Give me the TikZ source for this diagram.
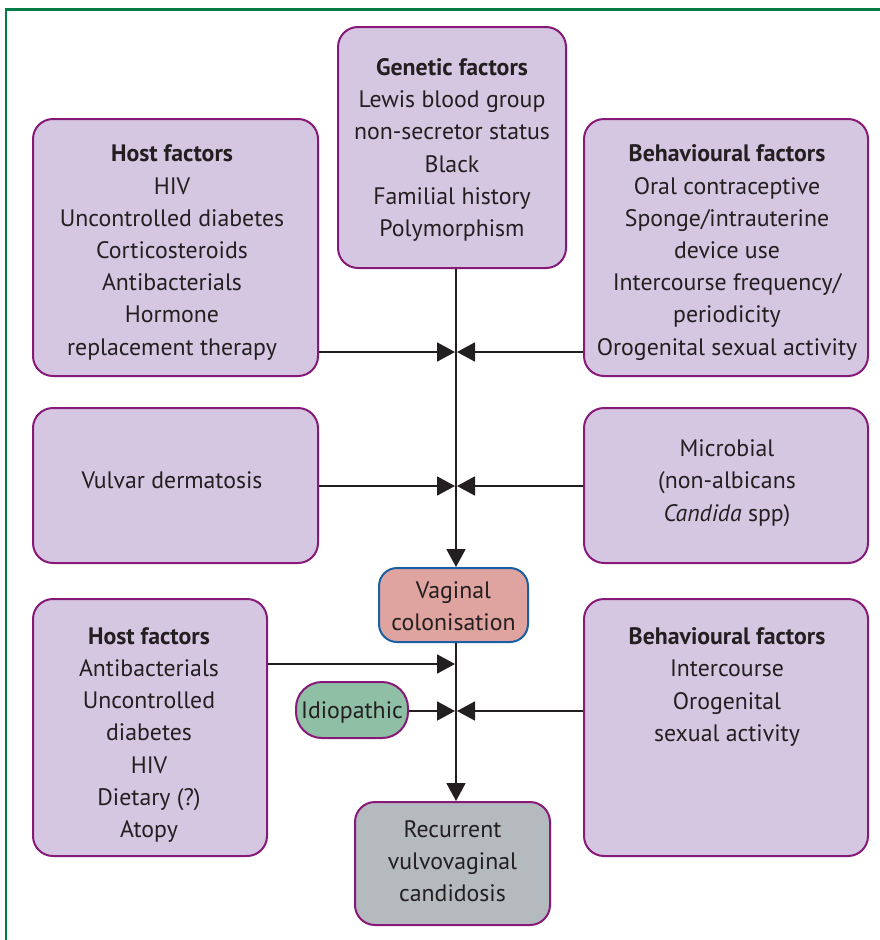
\documentclass[tikz,border=0pt]{standalone}
\usepackage{fontspec}
\setmainfont{PT Sans}
\usetikzlibrary{arrows.meta}
\definecolor{boxfill}{RGB}{213,198,225}
\definecolor{boxdraw}{RGB}{135,25,120}
\definecolor{txt}{RGB}{35,31,32}
\definecolor{vagfill}{RGB}{224,164,160}
\definecolor{vagdraw}{RGB}{25,95,165}
\definecolor{idiofill}{RGB}{143,192,165}
\definecolor{recfill}{RGB}{181,186,191}
\definecolor{frame}{RGB}{0,125,70}
\tikzset{
  box/.style={draw=boxdraw, fill=boxfill, line width=2pt, rounded corners=20pt,
    align=center, text=txt, inner sep=0pt, font=\fontsize{23.8}{32.2}\selectfont},
  lbl/.style={align=center, text=txt, inner sep=0pt, font=\fontsize{23.8}{32.2}\selectfont},
  arr/.style={line width=1.8pt, draw=txt, -{Triangle[length=18pt,width=19pt]}},
}
\begin{document}
\begin{tikzpicture}[x=1pt,y=-1pt]
\useasboundingbox (0,0) rectangle (880,940);
\draw[frame, line width=2.2pt] (6,940) -- (6,9.5) -- (880,9.5);
% boxes
\node[box, minimum width=228pt, minimum height=241pt] (gen) at (452,147.5) {};
\node[lbl] (gent) at (452,150)
  {\textbf{Genetic factors}\\Lewis blood group\\non-secretor status\\Black\\Familial history\\Polymorphism};
\node[box, minimum width=285pt, minimum height=257pt] (host1) at (175.5,247.5) {};
\node[lbl] (host1t) at (172,252.5)
  {\textbf{Host factors}\\HIV\\Uncontrolled diabetes\\Corticosteroids\\Antibacterials\\Hormone\\replacement therapy};
\node[box, minimum width=284pt, minimum height=257pt] (beh1) at (726,247.5) {};
\node[lbl] (beh1t) at (727,252.5)
  {\textbf{Behavioural factors}\\Oral contraceptive\\Sponge/intrauterine\\device use\\Intercourse frequency/\\periodicity\\Orogenital sexual activity};
\node[box, minimum width=285pt, minimum height=155pt] (vulv) at (175.5,485.5) {};
\node[lbl] (vulvt) at (172,480) {Vulvar dermatosis};
\node[box, minimum width=284pt, minimum height=155pt] (micro) at (726,485.5) {};
\node[lbl] (microt) at (727,483)
  {Microbial\\(non-albicans\\\textit{Candida} spp)};
\node[box, draw=vagdraw, fill=vagfill, rounded corners=18pt, minimum width=149pt, minimum height=74pt] (vag) at (453.5,605) {};
\node[lbl] (vagt) at (453.5,606) {Vaginal\\colonisation};
\node[box, minimum width=234pt, minimum height=257pt] (host2) at (150,727.5) {};
\node[lbl] (host2t) at (149,735)
  {\textbf{Host factors}\\Antibacterials\\Uncontrolled\\diabetes\\HIV\\Dietary (?)\\Atopy};
\node[box, minimum width=284pt, minimum height=257pt] (beh2) at (726,727.5) {};
\node[lbl] (beh2t) at (727,687)
  {\textbf{Behavioural factors}\\Intercourse\\Orogenital\\sexual activity};
\node[box, fill=idiofill, rounded corners=26pt, minimum width=112pt, minimum height=56pt] (idio) at (352,710) {};
\node[lbl] (idiot) at (352,712) {Idiopathic};
\node[box, fill=recfill, minimum width=195pt, minimum height=123pt] (rec) at (452.5,863.5) {};
\node[lbl] (rect) at (452.5,861) {Recurrent\\vulvovaginal\\candidosis};
% junctions
\coordinate (j1) at (456,352);
\coordinate (j2) at (456,486);
\coordinate (j3) at (456,664);
\coordinate (j4) at (456,711);
% connectors
\draw[arr] (gen.south -| j1) -- (vag.north -| j1);
\draw[arr] (vag.south -| j1) -- (rec.north -| j1);
\draw[arr] (host1.east |- j1) -- ([xshift=-1pt]j1);
\draw[arr] (beh1.west |- j1) -- ([xshift=1pt]j1);
\draw[arr] (vulv.east |- j2) -- ([xshift=-1pt]j2);
\draw[arr] (micro.west |- j2) -- ([xshift=1pt]j2);
\draw[arr] (host2.east |- j3) -- ([xshift=-1pt]j3);
\draw[arr] (idio.east |- j4) -- ([xshift=-1pt]j4);
\draw[arr] (beh2.west |- j4) -- ([xshift=1pt]j4);
\end{tikzpicture}
\end{document}
